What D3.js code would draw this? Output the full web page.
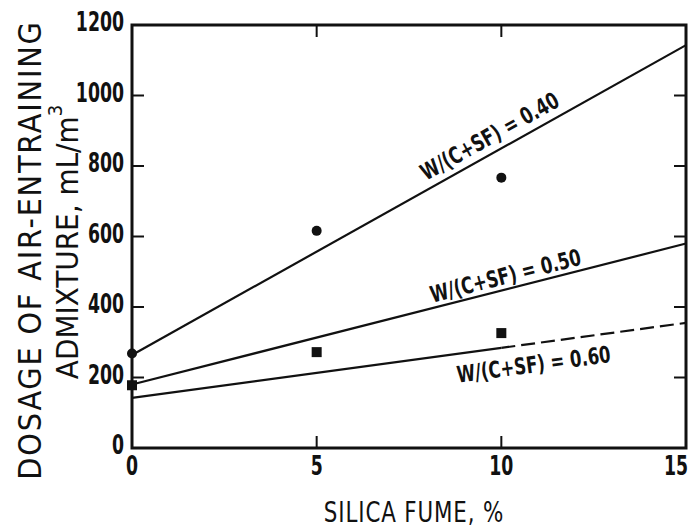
<!DOCTYPE html>
<html>
<head>
<meta charset="utf-8">
<script src="https://cdn.jsdelivr.net/npm/d3@7"></script>
<style>
  html, body { margin: 0; padding: 0; background: #fff; }
  svg { display: block; }
  text { font-family: "DejaVu Sans Condensed", "DejaVu Sans", sans-serif; fill: #111; }
</style>
</head>
<body>
<svg id="chart" width="690" height="531"></svg>
<script>
// Silica fume content, %
const silicaFume = [0, 5, 10];
// Measured dosages (mL/m3)
const dosageW040 = [268, 616, 767];
const dosageW050 = [178, 272, 326];
// Fitted lines: [x, dosage] end points
const fitW040 = [[0, 264], [15, 1143]];
const fitW050 = [[0, 180], [15, 580]];
const fitW060Solid = [[0, 142], [10, 284]];
const fitW060Dashed = [[10, 284], [15, 355]];
const lineLabels = ["W/(C+SF) = 0.40", "W/(C+SF) = 0.50", "W/(C+SF) = 0.60"];
const xTicks = [0, 5, 10, 15];
const yTicks = [0, 200, 400, 600, 800, 1000, 1200];

const svg = d3.select("#chart");
const x = d3.scaleLinear().domain([0, 15]).range([132, 686]);
const y = d3.scaleLinear().domain([0, 1200]).range([448, 25]);

// Narrow lettering: text squeezed horizontally
function narrowText(parent, tx, ty, rot, sx, size, weight, anchor, str) {
  return parent.append("text")
    .attr("transform", `translate(${tx},${ty}) rotate(${rot}) scale(${sx},1)`)
    .attr("text-anchor", anchor).attr("dominant-baseline", "central")
    .attr("font-size", size).attr("font-weight", weight)
    .text(str);
}

// Frame
const frame = svg.append("g").attr("stroke", "#111").attr("fill", "none");
frame.append("rect")
  .attr("x", x(0)).attr("y", y(1200))
  .attr("width", x(15) - x(0)).attr("height", y(0) - y(1200))
  .attr("stroke-width", 3);

// Inward ticks on all four sides
const tl = 12;
yTicks.slice(1, -1).forEach(v => {
  frame.append("line").attr("x1", x(0)).attr("x2", x(0) + tl).attr("y1", y(v)).attr("y2", y(v)).attr("stroke-width", 2);
  frame.append("line").attr("x1", x(15)).attr("x2", x(15) - tl).attr("y1", y(v)).attr("y2", y(v)).attr("stroke-width", 2);
});
xTicks.slice(1, -1).forEach(v => {
  frame.append("line").attr("x1", x(v)).attr("x2", x(v)).attr("y1", y(0)).attr("y2", y(0) - tl).attr("stroke-width", 2);
  frame.append("line").attr("x1", x(v)).attr("x2", x(v)).attr("y1", y(1200)).attr("y2", y(1200) + tl).attr("stroke-width", 2);
});

// Tick labels
const tickG = svg.append("g");
yTicks.forEach(v => narrowText(tickG, 124, y(v) - 3, 0, 0.74, 26, "bold", "end", v));
xTicks.forEach(v => narrowText(tickG, Math.min(x(v), 676), 466, 0, 0.74, 26, "bold", "middle", v));

// Axis titles
narrowText(svg, 414, 512, 0, 0.85, 28, "normal", "middle", "SILICA FUME, %")
  .attr("letter-spacing", 1);
narrowText(svg, 30, 250, -90, 1.0, 32, "normal", "middle", "DOSAGE OF AIR-ENTRAINING")
  .attr("letter-spacing", 1.8);
const yt2 = narrowText(svg, 67, 242, -90, 1.0, 31, "normal", "middle", "");
yt2.append("tspan").text("ADMIXTURE, mL/m");
yt2.append("tspan").attr("font-size", 20).attr("dy", -12).text("3");

// Fitted lines
const line = d3.line().x(d => x(d[0])).y(d => y(d[1]));
const lines = svg.append("g").attr("fill", "none").attr("stroke", "#111").attr("stroke-width", 2.2);
lines.append("path").attr("d", line(fitW040));
lines.append("path").attr("d", line(fitW050));
lines.append("path").attr("d", line(fitW060Solid));
lines.append("path").attr("d", line(fitW060Dashed)).attr("stroke-dasharray", "14,6");

// Data markers
svg.append("g").selectAll("circle").data(silicaFume).join("circle")
  .attr("cx", d => x(d)).attr("cy", (d, i) => y(dosageW040[i])).attr("r", 5).attr("fill", "#111");
svg.append("g").selectAll("rect").data(silicaFume).join("rect")
  .attr("x", d => x(d) - 5).attr("y", (d, i) => y(dosageW050[i]) - 5)
  .attr("width", 10).attr("height", 10).attr("fill", "#111");

// Line labels placed along each line
function labelAlong(seg, at, offset, txt) {
  const [p0, p1] = seg;
  const px0 = x(p0[0]), py0 = y(p0[1]), px1 = x(p1[0]), py1 = y(p1[1]);
  const ang = Math.atan2(py1 - py0, px1 - px0);
  const t = (at - p0[0]) / (p1[0] - p0[0]);
  const cx = px0 + t * (px1 - px0), cy = py0 + t * (py1 - py0);
  const nx = Math.sin(ang), ny = -Math.cos(ang);
  narrowText(svg, cx + nx * offset, cy + ny * offset, ang * 180 / Math.PI, 0.8, 23, "bold", "middle", txt);
}
labelAlong(fitW040, 9.9, 16, lineLabels[0]);
labelAlong(fitW050, 10.2, 13, lineLabels[1]);
labelAlong([fitW060Solid[0], fitW060Dashed[1]], 10.8, -21, lineLabels[2]);
</script>
</body>
</html>
